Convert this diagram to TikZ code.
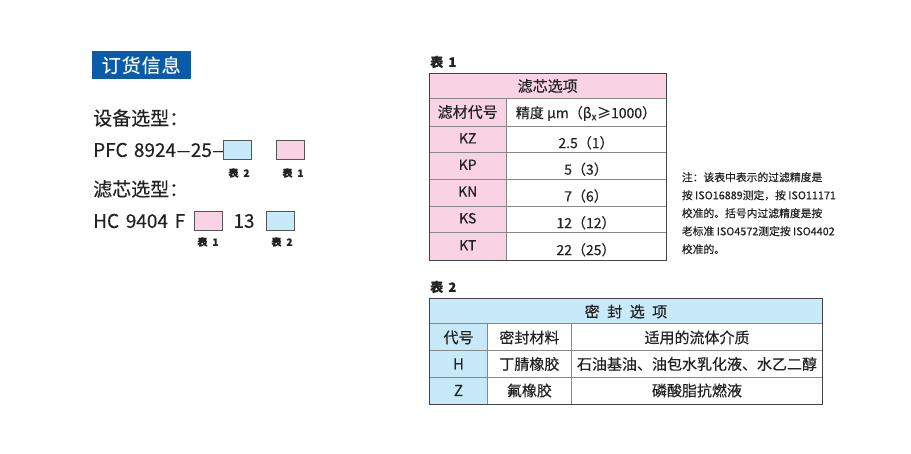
\documentclass[tikz,border=0pt]{standalone}
\usepackage{fontspec}
\setmainfont{Noto Sans CJK SC}[FakeBold=0.35]
\definecolor{pk}{HTML}{F9D3E3}
\definecolor{lb}{HTML}{C7E9F8}
\definecolor{tb}{HTML}{0A5BAA}
\definecolor{tx}{HTML}{222222}
\definecolor{ln}{HTML}{555555}
\newcommand{\longdash}{\scalebox{1.45}[1]{–}}
\tikzset{
  txt/.style={inner sep=0pt, text=tx},
  big/.style={txt, font=\fontsize{19}{22}\selectfont},
  cell/.style={txt, font=\fontsize{14}{16}\selectfont},
  cellc/.style={txt, font=\fontsize{15}{17}\selectfont},
  cellb/.style={txt, font=\fontsize{15}{17}\selectfont},
  tiny/.style={txt, font=\fontsize{10}{12}\selectfont\bfseries},
  tlabel/.style={txt, font=\fontsize{13}{15}\selectfont\bfseries, anchor=west},
  selbox/.style={draw=ln, line width=0.9pt, minimum width=28pt, minimum height=18.5pt, inner sep=0pt},
  outer/.style={draw=ln!80!black, line width=0.9pt},
  inner/.style={draw=ln!70, line width=0.7pt}
}
\begin{document}
\begin{tikzpicture}[x=1pt,y=-1pt]
\useasboundingbox[fill=white] (0,0) rectangle (911,454);

% ---------- left part ----------
\node[fill=tb, minimum width=99pt, minimum height=28.3pt, inner sep=0pt,
      text=white, font=\fontsize{19}{22}\selectfont] (title) at (141.2,65.2) {订\hspace{0.05em}货\hspace{0.05em}信\hspace{0.05em}息};

\node[big, anchor=west] (sb) at (93,118) {设备选型：};
\node[big, anchor=west] (pfc) at (93,150) {PFC\hspace{0.33em}8924\longdash25\longdash};
\node[selbox, fill=lb] (b1) at (237.5,150.2) {};
\node[selbox, fill=pk] (b2) at (290.7,150.2) {};
\node[tiny] (l1) at (239,173) {表\hspace{0.5em}2};
\node[tiny] (l2) at (293,173) {表\hspace{0.5em}1};

\node[big, anchor=west] (lx) at (93,189) {滤芯选型：};
\node[big, anchor=west] (hc) at (93,221) {HC\hspace{0.35em}9404\hspace{0.35em}F};
\node[selbox, fill=pk] (b3) at (208.3,220.9) {};
\node[big] (n13) at (244,221) {13};
\node[selbox, fill=lb] (b4) at (280.5,220.9) {};
\node[tiny] (l3) at (208,242) {表\hspace{0.5em}1};
\node[tiny] (l4) at (282,242) {表\hspace{0.5em}2};

% ---------- table 1 ----------
\node[tlabel] (t1lab) at (430,62) {表\hspace{0.4em}1};
\fill[pk] (429.5,73.3) rectangle (666,98.3);
\fill[pk] (429.5,98.3) rectangle (506,260);
\foreach \yy in {98.3,126,152.5,179,206,232.5}
  \draw[inner] (429.5,\yy) -- (666,\yy);
\draw[inner] (506,98.3) -- (506,260);
\draw[outer] (429.5,73.3) rectangle (666,260);

\node[cellc] (t1h) at (547.7,86) {滤芯选项};
\node[cellc] (t1c1) at (467.7,112) {滤材代号};
\node[cell] (t1c2) at (586,113.5) {精度 μm（β\textsubscript{x}≥1000）};
\foreach \k/\v/\yy in {KZ/2.5（1）/139.3, KP/5（3）/165.8, KN/7（6）/192.5, KS/12（12）/219.3, KT/22（25）/246.3}{
  \node[cell] (k\k) at (467.7,\yy-1) {\k};
  \node[cell] (v\k) at (586,\yy+3.5) {\v};
}

% note
\node[txt, anchor=north west, align=left, font=\fontsize{10.8}{18}\selectfont] (note) at (681.7,172)
 {注：该表中表示的过滤精度是\\按 ISO16889测定，按 ISO11171\\校准的。括号内过滤精度是按\\老标准 ISO4572测定按 ISO4402\\校准的。};

% ---------- table 2 ----------
\node[tlabel] (t2lab) at (430,287) {表\hspace{0.4em}2};
\fill[lb] (429.3,298.3) rectangle (822.7,323.3);
\fill[lb] (429.3,323.3) rectangle (487.7,404);
\foreach \yy in {323.3,350,377}
  \draw[inner] (429.3,\yy) -- (822.7,\yy);
\draw[inner] (487.7,323.3) -- (487.7,404);
\draw[inner] (571,323.3) -- (571,404);
\draw[outer] (429.3,298.3) rectangle (822.7,404);

\node[cellb] (t2h) at (626,311.5) {密\hspace{0.5em}封\hspace{0.5em}选\hspace{0.5em}项};
\node[cellb] (c1) at (458.5,337.5) {代号};
\node[cellb] (c2) at (529.4,337.5) {密封材料};
\node[cellb] (c3) at (697,337.5) {适用的流体介质};
\node[cellb] (h1) at (458.5,364) {H};
\node[cellb] (h2) at (529.4,364) {丁腈橡胶};
\node[cellb] (h3) at (697,364) {石油基油、油包水乳化液、水乙二醇};
\node[cellb] (z1) at (458.5,390.5) {Z};
\node[cellb] (z2) at (529.4,390.5) {氟橡胶};
\node[cellb] (z3) at (697,390.5) {磷酸脂抗燃液};
\end{tikzpicture}
\end{document}
